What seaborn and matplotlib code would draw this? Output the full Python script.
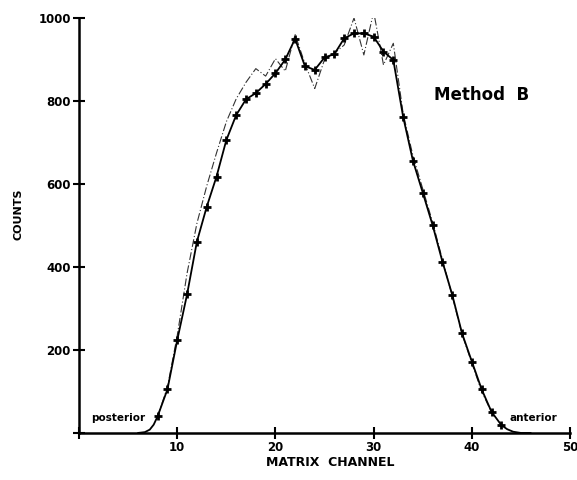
"""Method B 프로파일 그래프 (MATRIX CHANNEL vs COUNTS)를 다시 그리는 코드입니다."""

import matplotlib

matplotlib.use("Agg")
import matplotlib.pyplot as plt
import pandas as pd
import seaborn as sns


# 측정값 (+ 마커)
channels = [8, 9, 10, 11, 12, 13, 14, 15, 16, 17, 18, 19, 20, 21, 22, 23, 24, 25,
            26, 27, 28, 29, 30, 31, 32, 33, 34, 35, 36, 37, 38, 39, 40, 41, 42, 43]
counts = [40, 105, 224, 334, 461, 545, 618, 706, 766, 804, 819, 841, 867, 900, 950, 884, 875, 905,
          913, 951, 963, 963, 955, 919, 899, 762, 656, 579, 501, 413, 333, 240, 172, 105, 51, 19]

# 실선의 양 끝 꼬리 부분
tail_left_x = [6.0, 6.7, 7.2, 7.6]
tail_left_y = [0, 2, 8, 20]
tail_right_x = [43.6, 44.2, 45.0, 46.0]
tail_right_y = [9, 3, 0, 0]

# 일점쇄선 (다른 계산 결과)
dash_channels = [8, 9, 10, 11, 12, 13, 14, 15, 16, 17, 18, 19, 20, 21, 22, 23, 24, 25,
                 26, 27, 28, 29, 30, 31, 32, 33, 34, 35, 36, 37, 38, 39, 40, 41, 42]
dash_counts = [40, 110, 235, 385, 505, 595, 675, 750, 805, 845, 878, 860, 902, 872, 960, 890, 830, 900,
               915, 935, 1000, 911, 1015, 887, 939, 770, 668, 588, 508, 418, 330, 238, 168, 100, 50]

x_ticks = [0, 10, 20, 30, 40, 50]
x_tick_labels = ["", "10", "20", "30", "40", "50"]
y_ticks = [0, 200, 400, 600, 800, 1000]
y_tick_labels = ["", "200", "400", "600", "800", "1000"]


def main() -> None:
    sns.set_style("white")
    plt.rcParams["font.family"] = ["DejaVu Sans"]
    plt.rcParams["text.color"] = "black"

    solid = pd.DataFrame({
        "channel": tail_left_x + channels + tail_right_x,
        "counts": tail_left_y + counts + tail_right_y,
    })
    points = pd.DataFrame({"channel": channels, "counts": counts})
    dashed = pd.DataFrame({"channel": dash_channels, "counts": dash_counts})

    fig = plt.figure(figsize=(5.77, 4.8), dpi=100)
    ax = fig.add_axes([0.137, 0.098, 0.851, 0.8645])

    sns.lineplot(data=dashed, x="channel", y="counts", ax=ax, color="#333333",
                 linewidth=0.8, linestyle=(0, (7, 2, 1, 2)), sort=False)
    sns.lineplot(data=solid, x="channel", y="counts", ax=ax, color="black",
                 linewidth=1.3, sort=False)
    sns.scatterplot(data=points, x="channel", y="counts", ax=ax, color="black",
                    marker="+", s=40, linewidth=2.0, zorder=5)

    ax.set_xlim(0, 50)
    ax.set_ylim(0, 1000)
    ax.set_xticks(x_ticks)
    ax.set_xticklabels(x_tick_labels, fontsize=8.5, fontweight="bold")
    ax.set_yticks(y_ticks)
    ax.set_yticklabels(y_tick_labels, fontsize=8.5, fontweight="bold")
    ax.tick_params(direction="inout", length=8, width=1.5, pad=2, colors="black",
                   bottom=True, left=True)
    ax.set_xlabel("")
    ax.set_ylabel("")

    for side in ["top", "right"]:
        ax.spines[side].set_visible(False)
    for side in ["left", "bottom"]:
        ax.spines[side].set_linewidth(1.8)
        ax.spines[side].set_color("black")

    ax.text(36.1, 814, "Method  B", fontsize=12, fontweight="bold", va="center", color="black")
    ax.text(1.2, 36, "posterior", fontsize=7.5, fontweight="bold", va="center", color="black")
    ax.text(43.8, 36, "anterior", fontsize=7.5, fontweight="bold", va="center", color="black")

    fig.text(330 / 577, 1 - 462 / 480, "MATRIX  CHANNEL", fontsize=9,
             fontweight="bold", ha="center", va="center", color="black")
    fig.text(18 / 577, 1 - 214 / 480, "COUNTS", fontsize=8, fontweight="bold",
             ha="center", va="center", rotation=90, color="black")

    fig.savefig("out.png", dpi=100)
    plt.close(fig)


if __name__ == "__main__":
    main()
